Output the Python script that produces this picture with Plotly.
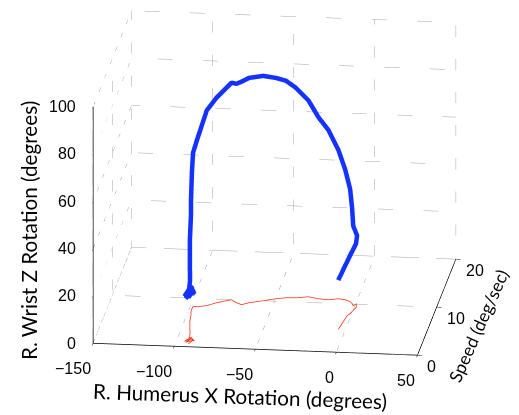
import plotly.graph_objects as go

# trajectory: humerus x rotation, speed, wrist z rotation
humerus = [-92, -90, -94, -91, -95, -92, -89,
           -93.2, -93.3, -94.3, -95.5, -96.7, -97.3, -98.2, -98.4, -98.2, -95.8,
           -90.1, -84.8, -76.5, -72.8, -69.3, -65.0, -57.0, -49.7, -43.9, -37.9,
           -30.4, -23.9, -17.6, -11.8, -7.4, -3.9, -2.2, -1.1, 0.8, 1.1,
           -1.0, -2.3, -4.4]
speed = [0.6, 1.4, 0.9, 1.8, 1.1, 2.0, 1.2,
         1.94, 2.56, 3.37, 4.39, 5.40, 6.43, 7.24, 7.86, 8.27, 8.30,
         8.58, 9.26, 9.98, 9.41, 9.04, 9.51, 10.02, 10.52, 10.80, 10.87,
         11.17, 10.84, 10.71, 10.99, 10.84, 10.47, 10.08, 9.68, 10.11, 9.29,
         8.03, 7.6, 4.69]
wrist = [19.5, 21, 18.5, 20.5, 19, 21.5, 20,
         19.6, 22.5, 25.0, 29.6, 34.6, 42.1, 47.5, 57.5, 65.0, 70.4,
         82.5, 86.7, 91.7, 92.5, 94.2, 95.0, 95.0, 93.3, 91.7, 88.75,
         82.9, 76.7, 71.7, 62.9, 55.0, 47.5, 40.0, 33.75, 28.75, 27.0,
         24.6, 22.9, 20.8]

xticks = [-150, -100, -50, 0, 50]
yticks = [0, 10, 20]
zticks = [0, 20, 40, 60, 80, 100]

x0, x1 = xticks[0], xticks[-1]
y0, y1 = yticks[0], yticks[-1]
z0, z1 = zticks[0], zticks[-1]


def lab(v):
    return str(v).replace("-", "\u2212")


# dotted grid on the three back planes (floor, back wall, left wall)
gx, gy, gz = [], [], []
def seg(a, b):
    gx.extend([a[0], b[0], None]); gy.extend([a[1], b[1], None]); gz.extend([a[2], b[2], None])

for v in xticks:
    seg((v, y0, z0), (v, y1, z0))
    seg((v, y1, z0), (v, y1, z1))
for v in yticks:
    seg((x0, v, z0), (x1, v, z0))
    seg((x0, v, z0), (x0, v, z1))
for v in zticks:
    seg((x0, y1, v), (x1, y1, v))
    seg((x0, y0, v), (x0, y1, v))

fig = go.Figure()
fig.add_trace(go.Scatter3d(x=gx, y=gy, z=gz, mode="lines", hoverinfo="skip",
                           line=dict(color="rgb(165,165,165)", width=1, dash="dot")))
fig.add_trace(go.Scatter3d(x=humerus, y=speed, z=wrist, mode="lines",
                           line=dict(color="rgb(20,50,255)", width=9)))
fig.add_trace(go.Scatter3d(x=humerus, y=speed, z=[0] * len(wrist), mode="lines",
                           line=dict(color="rgb(245,45,20)", width=1.5)))

axis_common = dict(showbackground=False, showgrid=False,
                   zeroline=False, showline=True, linecolor="black", linewidth=1.5,
                   ticks="outside", tickcolor="black",
                   showticklabels=False, title=dict(text=""), showspikes=False)

tickfont = dict(family="Liberation Sans", size=16, color="black")
tick_labels = []
for v in xticks:
    tick_labels.append(dict(x=v, y=y0, z=z0, text=lab(v), showarrow=False,
                            xanchor="right", yanchor="top", xshift=0, yshift=-15,
                            font=tickfont))
for v in yticks:
    tick_labels.append(dict(x=x1, y=v, z=z0, text=lab(v), showarrow=False,
                            xanchor="left", yanchor="middle", xshift=8, yshift=-11,
                            font=tickfont))
for v in zticks:
    tick_labels.append(dict(x=x0, y=y0, z=v, text=lab(v), showarrow=False,
                            xanchor="right", yanchor="middle", xshift=-15, yshift=0,
                            font=tickfont))

eye_dir = (0.1145, -0.9463, 0.302)
eye_len = 2.0
zoom = 1.785
shift = (0.0385, 0, -0.045)

fig.update_layout(
    width=519, height=415,
    margin=dict(l=0, r=0, t=0, b=0),
    paper_bgcolor="white",
    showlegend=False,
    scene=dict(
        domain=dict(x=[0.054, 1.0], y=[0.118, 1.0]),
        xaxis=dict(range=[x0, x1], tickvals=xticks, ticklen=5, **axis_common),
        yaxis=dict(range=[y0, y1], tickvals=yticks, ticklen=7, **axis_common),
        zaxis=dict(range=[z0, z1], tickvals=zticks, ticklen=10, **axis_common),
        aspectmode="manual",
        aspectratio=dict(x=1 * zoom, y=0.98 * zoom, z=0.76 * zoom),
        camera=dict(projection=dict(type="orthographic"),
                    up=dict(x=0, y=0, z=1),
                    center=dict(x=shift[0], y=shift[1], z=shift[2]),
                    eye=dict(x=eye_dir[0] * eye_len + shift[0],
                             y=eye_dir[1] * eye_len + shift[1],
                             z=eye_dir[2] * eye_len + shift[2])),
        annotations=tick_labels,
    ),
    annotations=[
        dict(text="R. Humerus X Rotation (degrees)", x=232 / 519, y=1 - 388 / 415,
             xref="paper", yref="paper", showarrow=False, textangle=2,
             xanchor="center", yanchor="middle",
             font=dict(family="Lato", size=20.7, color="black")),
        dict(text="R. Wrist Z Rotation (degrees)", x=21 / 519, y=1 - 223 / 415,
             xref="paper", yref="paper", showarrow=False, textangle=-90,
             xanchor="center", yanchor="middle",
             font=dict(family="Lato", size=20.7, color="black")),
        dict(text="Speed (deg/sec)", x=470 / 519, y=1 - 318 / 415,
             xref="paper", yref="paper", showarrow=False, textangle=-66,
             xanchor="center", yanchor="middle",
             font=dict(family="Lato", size=17.5, color="black")),
    ],
)

fig.write_html("out.html")
